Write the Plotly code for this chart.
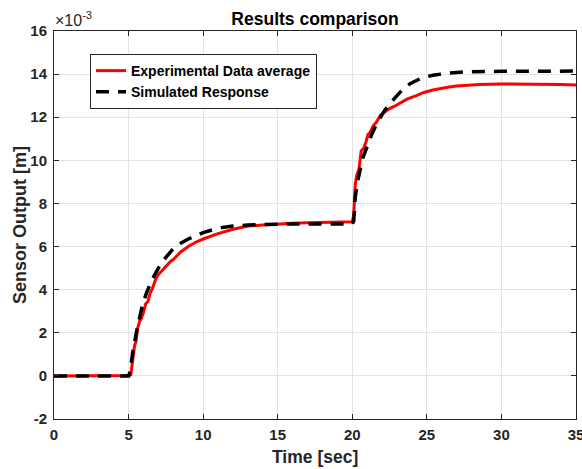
import plotly.graph_objects as go

# Experimental data average (Sensor output in units of 1e-3 m)
exp_t = [0, 1, 2, 3, 4, 5.0, 5.15, 5.25, 5.4, 5.5, 5.6, 5.75, 5.85, 6.0, 6.15, 6.3, 6.45, 6.6, 6.8, 7.0, 7.2, 7.5, 7.8, 8.0,
         8.5, 9.0, 9.5, 10, 11, 12, 13, 14, 15, 16, 17, 18, 19, 20.0, 20.1, 20.2, 20.3, 20.45, 20.6, 20.75, 20.9,
         21.05, 21.2, 21.4, 21.6, 21.9, 22.2, 22.5, 22.8, 23.2, 23.7, 24.3, 24.8, 25.4, 26.0, 26.5, 27.0, 27.7,
         28.5, 30, 31, 32.5, 34, 35]
exp_y = [0, 0, 0, 0, 0, 0.02, 0.05, 0.6, 1.4, 1.6, 2.2, 2.55, 2.65, 2.95, 3.35, 3.45, 3.85, 4.05, 4.45, 4.7, 4.85, 5.1, 5.3, 5.4,
         5.75, 6.0, 6.2, 6.35, 6.6, 6.8, 6.95, 7.0, 7.05, 7.08, 7.1, 7.12, 7.13, 7.15, 7.5, 8.9, 9.3, 9.6, 10.45, 10.55, 10.8,
         11.2, 11.3, 11.6, 11.75, 12.1, 12.25, 12.4, 12.5, 12.65, 12.85, 13.0, 13.15, 13.26, 13.35, 13.4, 13.45, 13.49,
         13.52, 13.54, 13.54, 13.53, 13.52, 13.5]

# Simulated response (units of 1e-3 m)
sim_t = [0, 5.0, 5.1, 5.3, 5.55, 5.9, 6.2, 6.6, 7.0, 7.5, 8.0, 8.5, 9, 10, 11, 12, 13, 14, 15, 17, 20.0, 20.1,
         20.2, 20.35, 20.5, 20.7, 21.0, 21.3, 21.65, 22.2, 22.8, 23.4, 23.9, 24.6, 25.4, 26.5, 27.5, 30, 35]
sim_y = [0, 0, 0.2, 1.2, 2.1, 3.2, 3.85, 4.5, 5.0, 5.5, 5.9, 6.15, 6.35, 6.65, 6.85, 6.95, 7.0, 7.03, 7.04, 7.05,
         7.05, 7.2, 8.3, 9.0, 9.5, 10.1, 10.65, 11.2, 11.72, 12.35, 12.85, 13.3, 13.57, 13.8, 13.95, 14.05, 14.1,
         14.13, 14.14]

x_ticks = [0, 5, 10, 15, 20, 25, 30, 35]
y_ticks = [-2, 0, 2, 4, 6, 8, 10, 12, 14, 16]

FONT = "Liberation Sans, Arial, sans-serif"
AX = "#262626"
W, H = 582, 469
L, R, T, B = 54, 6, 31, 50

fig = go.Figure()
fig.add_trace(go.Scatter(x=exp_t, y=exp_y, mode="lines", name="Experimental Data average",
                         line=dict(color="#ff0000", width=3)))
fig.add_trace(go.Scatter(x=sim_t, y=sim_y, mode="lines", name="Simulated Response",
                         line=dict(color="#000000", width=3.5, dash="13px,9px")))

axis_common = dict(showline=True, linecolor=AX, linewidth=1, mirror="allticks",
                   ticks="inside", ticklen=5, tickcolor=AX, showgrid=True,
                   gridcolor="#e3e3e3", gridwidth=1, zeroline=False, automargin=False,
                   ticklabeloverflow="allow",
                   tickfont=dict(family=FONT, size=15, color=AX))

fig.update_layout(
    width=W, height=H,
    margin=dict(l=L, r=R, t=T, b=B, autoexpand=False),
    paper_bgcolor="white", plot_bgcolor="white",
    title=dict(text="<b>Results comparison</b>", x=315 / W, xanchor="center", y=1 - 19 / H, yanchor="middle",
               font=dict(family=FONT, size=17.5, color="black")),
    xaxis=dict(range=[0, 35], tickvals=x_ticks, ticktext=[f"<b>{v}</b>" for v in x_ticks],
               ticklabelstandoff=2, **axis_common),
    yaxis=dict(range=[-2, 16], tickvals=y_ticks, ticktext=[f"<b>{v}</b>" for v in y_ticks],
               ticklabelstandoff=3, **axis_common),
    legend=dict(x=(90 - L) / (W - L - R), y=(H - B - 54) / (H - T - B), xanchor="left", yanchor="top",
                bgcolor="white", bordercolor=AX, borderwidth=1,
                font=dict(family=FONT, size=14, color="black", weight="bold"),
                itemwidth=30, tracegroupgap=0),
    showlegend=True,
)

fig.add_annotation(text="×10<sup>-3</sup>", xref="paper", yref="paper", x=0, y=1,
                   xanchor="left", yanchor="bottom", showarrow=False, xshift=-1, yshift=0,
                   font=dict(family=FONT, size=16, color=AX))
fig.add_annotation(text="<b>Time [sec]</b>", xref="paper", yref="paper", x=0.5, y=0,
                   xanchor="center", yanchor="middle", showarrow=False, yshift=-38,
                   font=dict(family=FONT, size=17.5, color=AX))
fig.add_annotation(text="<b>Sensor Output [m]</b>", xref="paper", yref="paper", x=0, y=0.5,
                   xanchor="center", yanchor="middle", showarrow=False, xshift=-34, textangle=-90,
                   font=dict(family=FONT, size=18, color=AX))

fig.write_html("out.html", config={"displayModeBar": False},
               post_script="document.body.style.margin='0';document.body.style.overflow='hidden';")
